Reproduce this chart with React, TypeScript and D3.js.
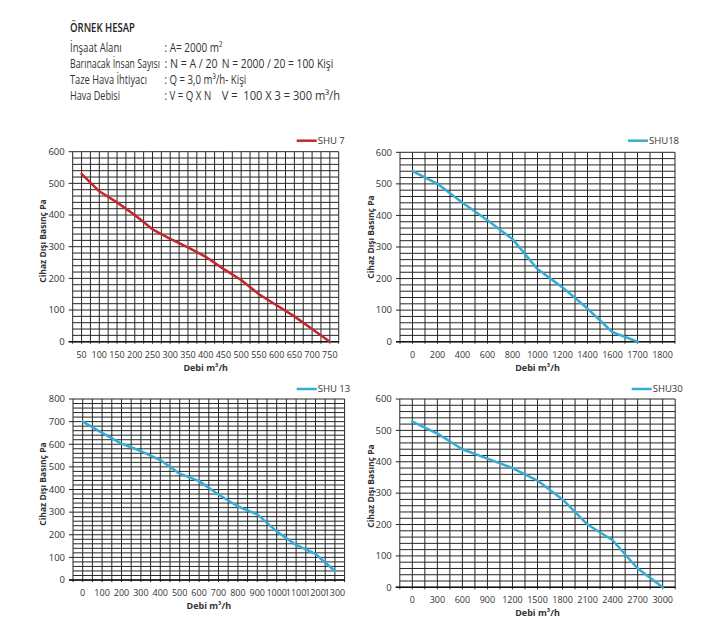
import React from "react";
import * as d3 from "d3";

// ---------- header text ----------
const HEADER_TITLE = "ÖRNEK HESAP";
const HEADER_LABELS = ["İnşaat Alanı", "Barınacak İnsan Sayısı", "Taze Hava İhtiyacı", "Hava Debisi"];
const HEADER_FORMULAS = [": A= 2000 m²", ": N = A / 20", ": Q = 3,0 m³/h- Kişi", ": V = Q X N"];
const HEADER_RESULTS = ["", "N = 2000 / 20 = 100 Kişi", "", "V =  100 X 3 = 300 m³/h"];

// ---------- chart data ----------
const SHU7_CATS = ["50", "100", "150", "200", "250", "300", "350", "400", "450", "500", "550", "600", "650", "700", "750"];
const SHU7_VALUES = [530, 475, 440, 400, 355, 325, 298, 268, 230, 195, 150, 115, 80, 40, 0];

const SHU18_CATS = ["0", "200", "400", "600", "800", "1000", "1200", "1400", "1600", "1700", "1800"];
const SHU18_VALUES = [540, 500, 440, 385, 325, 230, 172, 105, 30, 0];

const SHU13_CATS = ["0", "100", "200", "300", "400", "500", "600", "700", "800", "900", "1000", "1100", "1200", "1300"];
const SHU13_VALUES = [700, 650, 603, 570, 530, 470, 437, 378, 325, 290, 215, 155, 115, 40];

const SHU30_CATS = ["0", "300", "600", "900", "1200", "1500", "1800", "2100", "2400", "2700", "3000"];
const SHU30_VALUES = [528, 490, 440, 410, 380, 340, 280, 200, 150, 60, 0];

const Y_TITLE = "Cihaz Dışı  Basınç Pa";
const X_TITLE = "Debi m³/h";

// ---------- styles / layout ----------
const RED = "#c4262e";
const BLUE = "#35acd5";
const GRID = "#262626";
const TEXT = "#333333";
const FONT = "'Open Sans', 'Noto Sans', sans-serif";
const HEADER_FONT = "'Open Sans', 'Noto Sans', sans-serif";

// header layout (baselines and fitted widths)
const HEADER_ROWS = [52, 68, 84, 100];
const HEADER_LABEL_W = [51.7, 90, 77, 50];
const HEADER_FORMULA_W = [58, 53, 81.7, 46.7];
const HEADER_RESULT_W = [0, 111.7, 0, 118.3];

const PANELS = [
  { name: "SHU 7", cats: SHU7_CATS, values: SHU7_VALUES, yMax: 600, color: RED,
    left: 72.7, right: 338.7, top: 151.7, bottom: 341.7, legendX: 296.7, legendY: 140.7, yTitleX: 43, yTitleY: 241 },
  { name: "SHU18", cats: SHU18_CATS, values: SHU18_VALUES, yMax: 600, color: BLUE,
    left: 400, right: 675, top: 152.3, bottom: 341.7, legendX: 628, legendY: 140.7, yTitleX: 371, yTitleY: 237 },
  { name: "SHU 13", cats: SHU13_CATS, values: SHU13_VALUES, yMax: 800, color: BLUE,
    left: 73, right: 344.6, top: 399, bottom: 580, legendX: 296.7, legendY: 389, yTitleX: 43, yTitleY: 484 },
  { name: "SHU30", cats: SHU30_CATS, values: SHU30_VALUES, yMax: 600, color: BLUE,
    left: 399.8, right: 675.2, top: 399, bottom: 587.3, legendX: 631.7, legendY: 389, yTitleX: 371, yTitleY: 486 },
];

type Panel = (typeof PANELS)[number];

function Chart({ p }: { p: Panel }) {
  const x = d3.scaleBand<string>().domain(p.cats).range([p.left, p.right]).padding(0);
  const bw = x.bandwidth();
  const y = d3.scaleLinear().domain([0, p.yMax]).range([p.bottom, p.top]);
  const cx = (c: string) => (x(c) as number) + bw / 2;

  const vLines: number[] = [];
  p.cats.forEach((c) => {
    vLines.push(x(c) as number);
    vLines.push(cx(c));
  });
  vLines.push(p.right);

  const hLines = d3.range(0, p.yMax + 1, 20);
  const yTicks = d3.range(0, p.yMax + 1, 100);

  const pts: [number, number][] = p.values.map((v, i) => [cx(p.cats[i]), y(v)]);
  const path = d3.line()(pts) || "";

  return (
    <g>
      {hLines.map((v) => (
        <line key={"h" + v} x1={p.left} x2={p.right} y1={y(v)} y2={y(v)} stroke={GRID} strokeWidth={1} />
      ))}
      {vLines.map((vx, i) => (
        <line key={"v" + i} x1={vx} x2={vx} y1={p.top} y2={p.bottom + 2} stroke={GRID} strokeWidth={1} />
      ))}
      {yTicks.map((v) => (
        <line key={"t" + v} x1={p.left - 4} x2={p.left} y1={y(v)} y2={y(v)} stroke={GRID} strokeWidth={1} />
      ))}
      <line x1={p.left - 4} x2={p.right} y1={p.bottom} y2={p.bottom} stroke="#111" strokeWidth={1.4} />
      {yTicks.map((v) => (
        <text key={"yl" + v} x={p.left - 8} y={y(v)} dy="0.35em" textAnchor="end" fontSize={9.5} fill={TEXT} fontFamily={FONT}>
          {v}
        </text>
      ))}
      {p.cats.map((c) => (
        <text key={"xl" + c} x={cx(c)} y={p.bottom + 16} textAnchor="middle" fontSize={9} fill={TEXT} fontFamily={FONT}>
          {c}
        </text>
      ))}
      <path d={path} fill="none" stroke={p.color} strokeWidth={2.5} strokeLinejoin="round" strokeLinecap="round" />
      <text x={(p.left + p.right) / 2} y={p.bottom + 29} textAnchor="middle" fontSize={9} fontWeight="bold" fill={TEXT} fontFamily={FONT}>
        {X_TITLE}
      </text>
      <text
        transform={`translate(${p.yTitleX},${p.yTitleY}) rotate(-90)`}
        textAnchor="middle"
        dy="0.35em"
        fontSize={8.5}
        fontWeight="bold"
        fill={TEXT}
        fontFamily={FONT}
      >
        {Y_TITLE}
      </text>
      <line x1={p.legendX} x2={p.legendX + 20} y1={p.legendY} y2={p.legendY} stroke={p.color} strokeWidth={2.5} />
      <text x={p.legendX + 21} y={p.legendY} dy="0.35em" fontSize={9.5} fill={TEXT} fontFamily={FONT}>
        {p.name}
      </text>
    </g>
  );
}

export default function App() {
  return (
    <div style={{ position: "absolute", left: 0, top: 0 }}>
      <svg width={728} height={639} style={{ display: "block", background: "#fff" }}>
        <rect width={728} height={639} fill="#fff" />
        <text x={70} y={32} fontSize={13} fontWeight={600} fill="#222" fontFamily={HEADER_FONT} textLength={65} lengthAdjust="spacingAndGlyphs">
          {HEADER_TITLE}
        </text>
        {HEADER_LABELS.map((l, i) => (
          <g key={l}>
            <text x={70} y={HEADER_ROWS[i]} fontSize={12} fill={TEXT} fontFamily={HEADER_FONT}
              textLength={HEADER_LABEL_W[i]} lengthAdjust="spacingAndGlyphs">{l}</text>
            <text x={164.5} y={HEADER_ROWS[i]} fontSize={12} fill={TEXT} fontFamily={HEADER_FONT}
              textLength={HEADER_FORMULA_W[i]} lengthAdjust="spacingAndGlyphs">{HEADER_FORMULAS[i]}</text>
            {HEADER_RESULTS[i] && (
              <text x={221.7} y={HEADER_ROWS[i]} fontSize={12} fill={TEXT} fontFamily={HEADER_FONT}
                textLength={HEADER_RESULT_W[i]} lengthAdjust="spacingAndGlyphs" style={{ whiteSpace: "pre" }}>
                {HEADER_RESULTS[i]}
              </text>
            )}
          </g>
        ))}
        {PANELS.map((p) => (
          <Chart key={p.name} p={p} />
        ))}
      </svg>
    </div>
  );
}
